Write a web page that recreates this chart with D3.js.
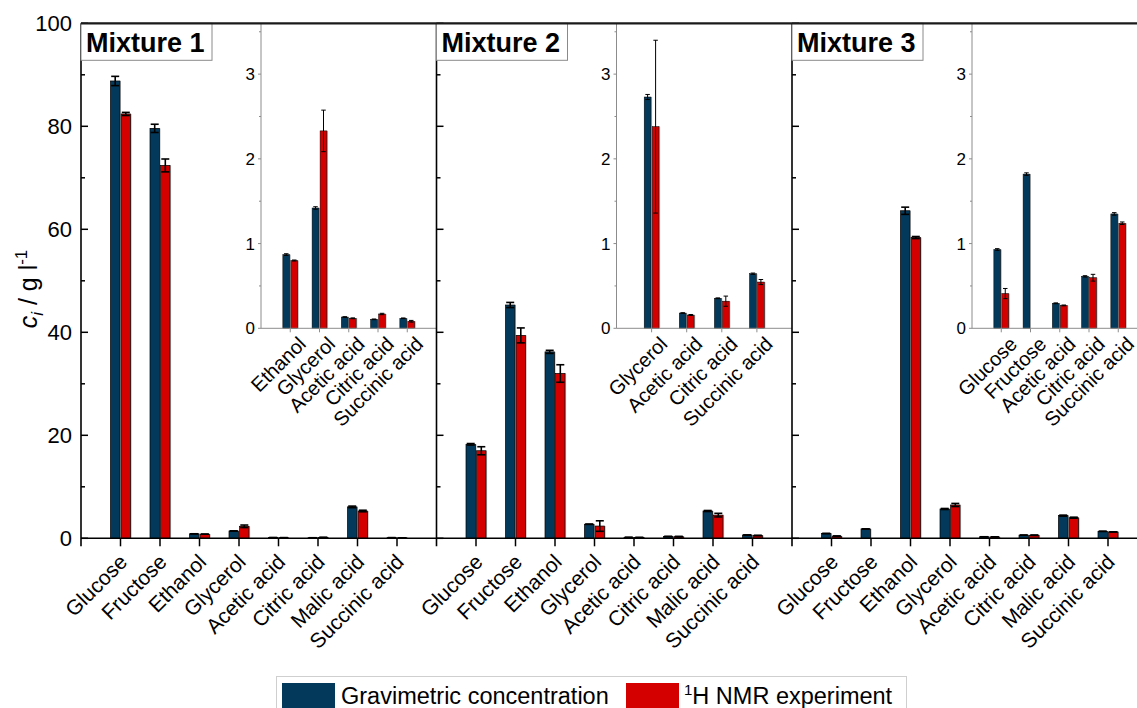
<!DOCTYPE html>
<html>
<head>
<meta charset="utf-8">
<script src="https://cdn.jsdelivr.net/npm/d3@7"></script>
<style>
  body { margin: 0; background: #fff; }
  svg { display: block; font-family: Arial, "Liberation Sans", sans-serif; }
</style>
</head>
<body>
<svg id="chart" width="1137" height="708"></svg>
<script>
// Analytes shown on the main axis of every panel
const categories = ["Glucose", "Fructose", "Ethanol", "Glycerol", "Acetic acid", "Citric acid", "Malic acid", "Succinic acid"];
const mixtures = ["Mixture 1", "Mixture 2", "Mixture 3"];
const seriesNames = ["Gravimetric concentration", "NMR experiment"];

// Concentrations in g/l (same order as categories)
const gravimetric1 = [88.8, 79.6, 0.87, 1.42, 0.133, 0.106, 6.1, 0.118];
const gravimetricErr1 = [0.9, 0.8, 0.01, 0.015, 0.004, 0.004, 0.15, 0.004];
const nmr1 = [82.4, 72.4, 0.80, 2.33, 0.118, 0.169, 5.3, 0.083];
const nmrErr1 = [0.3, 1.25, 0.006, 0.245, 0.005, 0.008, 0.15, 0.01];

const gravimetric2 = [18.25, 45.3, 36.2, 2.73, 0.18, 0.354, 5.3, 0.644];
const gravimetricErr2 = [0.15, 0.5, 0.3, 0.03, 0.004, 0.005, 0.1, 0.008];
const nmr2 = [17.0, 39.4, 32.0, 2.38, 0.157, 0.32, 4.5, 0.546];
const nmrErr2 = [0.78, 1.45, 1.7, 1.02, 0.006, 0.06, 0.35, 0.03];

const gravimetric3 = [0.93, 1.82, 63.6, 5.69, 0.295, 0.613, 4.4, 1.35];
const gravimetricErr3 = [0.01, 0.015, 0.7, 0.1, 0.005, 0.008, 0.1, 0.015];
const nmr3 = [0.41, null, 58.4, 6.47, 0.27, 0.597, 4.0, 1.24];
const nmrErr3 = [0.06, 0, 0.2, 0.3, 0.005, 0.04, 0.1, 0.015];

// Minor components enlarged in each panel's inset
const insetCategories1 = ["Ethanol", "Glycerol", "Acetic acid", "Citric acid", "Succinic acid"];
const insetCategories2 = ["Glycerol", "Acetic acid", "Citric acid", "Succinic acid"];
const insetCategories3 = ["Glucose", "Fructose", "Acetic acid", "Citric acid", "Succinic acid"];

const mainTicks = [0, 20, 40, 60, 80, 100];
const insetTicks = [0, 1, 2, 3];

const colors = { grav: "#033a5b", nmr: "#d40000" };

const panels = [
  { title: mixtures[0], grav: gravimetric1, gErr: gravimetricErr1, nmr: nmr1, nErr: nmrErr1, inset: insetCategories1 },
  { title: mixtures[1], grav: gravimetric2, gErr: gravimetricErr2, nmr: nmr2, nErr: nmrErr2, inset: insetCategories2 },
  { title: mixtures[2], grav: gravimetric3, gErr: gravimetricErr3, nmr: nmr3, nErr: nmrErr3, inset: insetCategories3 }
];

const svg = d3.select("#chart");

// Layout
const plotLeft = 81, panelW = 355.5, plotTop = 23.3, plotBase = 538.3;
const insetOffset = 180, insetBase = 328.3;

const y = d3.scaleLinear().domain([0, 100]).range([plotBase, plotTop]);
const yInset = d3.scaleLinear().domain([0, 3.6]).range([insetBase, plotTop]);

function drawBars(g, xs, yS, cats, p, bw, gap, errCap, errW, strokeW) {
  cats.forEach(cat => {
    const i = categories.indexOf(cat);
    const cx = xs(cat);
    const items = [
      { v: p.grav[i], e: p.gErr[i], c: colors.grav, x: cx - bw - gap / 2 },
      { v: p.nmr[i], e: p.nErr[i], c: colors.nmr, x: cx + gap / 2 }
    ];
    items.forEach(d => {
      if (d.v == null) return;
      const top = yS(d.v), h = yS(0) - top;
      g.append("rect").attr("x", d.x + 1.1).attr("y", top).attr("width", bw).attr("height", h)
        .attr("fill", "#b5b5b5");
      g.append("rect").attr("x", d.x).attr("y", top).attr("width", bw).attr("height", h)
        .attr("fill", d.c).attr("stroke", "#000").attr("stroke-width", strokeW);
      if (d.e > 0) {
        const mx = d.x + bw / 2;
        const y1 = yS(d.v + d.e), y2 = yS(Math.max(0, d.v - d.e));
        const eg = g.append("g").attr("stroke", "#000").attr("stroke-width", errW);
        eg.append("line").attr("x1", mx).attr("x2", mx).attr("y1", y1).attr("y2", y2);
        eg.append("line").attr("x1", mx - errCap / 2).attr("x2", mx + errCap / 2).attr("y1", y1).attr("y2", y1);
        eg.append("line").attr("x1", mx - errCap / 2).attr("x2", mx + errCap / 2).attr("y1", y2).attr("y2", y2);
      }
    });
  });
}

panels.forEach((p, k) => {
  const left = plotLeft + k * panelW;
  const x = d3.scalePoint().domain(categories).range([left, left + panelW]).padding(1);
  const g = svg.append("g");

  // main bars
  drawBars(g, x, y, categories, p, 9.4, 1.2, 8, 1.6, 0.7);

  // x tick marks (outward) and rotated labels
  categories.forEach(cat => {
    g.append("line").attr("x1", x(cat)).attr("x2", x(cat)).attr("y1", plotBase).attr("y2", plotBase + 8)
      .attr("stroke", "#000").attr("stroke-width", 1.5);
    g.append("text").attr("transform", `translate(${x(cat) + 8},${plotBase + 25}) rotate(-45)`)
      .attr("text-anchor", "end").attr("font-size", 21).attr("fill", "#000").text(cat);
  });

  // panel frame line on the left with inward ticks
  g.append("line").attr("x1", left).attr("x2", left).attr("y1", plotTop).attr("y2", plotBase + 8)
    .attr("stroke", "#000").attr("stroke-width", 1.6);
  d3.range(0, 101, 10).forEach(t => {
    const major = t % 20 === 0;
    g.append("line").attr("x1", left).attr("x2", left + (major ? 7 : 4)).attr("y1", y(t)).attr("y2", y(t))
      .attr("stroke", "#000").attr("stroke-width", 1.5);
  });

  // inset
  const iLeft = left + insetOffset, iRight = left + panelW;
  const xi = d3.scalePoint().domain(p.inset).range([iLeft, iRight]).padding(1);
  const ig = svg.append("g");
  drawBars(ig, xi, yInset, p.inset, p, 6.8, 1.2, 4.5, 1, 0.5);
  ig.append("line").attr("x1", iLeft).attr("x2", iLeft).attr("y1", plotTop).attr("y2", insetBase)
    .attr("stroke", "#8c8c8c").attr("stroke-width", 1);
  ig.append("line").attr("x1", iLeft).attr("x2", iRight).attr("y1", insetBase).attr("y2", insetBase)
    .attr("stroke", "#8c8c8c").attr("stroke-width", 1);
  d3.range(0, 3.51, 0.5).forEach(t => {
    const major = Number.isInteger(t);
    ig.append("line").attr("x1", iLeft - (major ? 3 : 2)).attr("x2", iLeft).attr("y1", yInset(t)).attr("y2", yInset(t))
      .attr("stroke", "#8c8c8c").attr("stroke-width", 1);
  });
  insetTicks.forEach(t => {
    ig.append("text").attr("x", iLeft - 6).attr("y", yInset(t)).attr("dy", "0.36em")
      .attr("text-anchor", "end").attr("font-size", 17).attr("fill", "#000").text(t);
  });
  p.inset.forEach(cat => {
    ig.append("line").attr("x1", xi(cat)).attr("x2", xi(cat)).attr("y1", insetBase).attr("y2", insetBase + 4)
      .attr("stroke", "#8c8c8c").attr("stroke-width", 1);
    ig.append("text").attr("transform", `translate(${xi(cat) + 17},${insetBase + 17}) rotate(-45)`)
      .attr("text-anchor", "end").attr("font-size", 20).attr("fill", "#000").text(cat);
  });

  // title box
  svg.append("rect").attr("x", left).attr("y", plotTop).attr("width", 131).attr("height", 37)
    .attr("fill", "#fff").attr("stroke", "#8a8a8a").attr("stroke-width", 1);
  svg.append("text").attr("x", left + 5).attr("y", plotTop + 29).attr("font-size", 27)
    .attr("font-weight", "bold").attr("fill", "#000").text(p.title);
});

// top frame and baseline
svg.append("line").attr("x1", plotLeft).attr("x2", 1137).attr("y1", plotTop).attr("y2", plotTop)
  .attr("stroke", "#1a1a1a").attr("stroke-width", 2.2);
svg.append("line").attr("x1", plotLeft).attr("x2", 1137).attr("y1", plotBase).attr("y2", plotBase)
  .attr("stroke", "#000").attr("stroke-width", 1.6);

// main y tick labels
const yAxisG = svg.append("g");
mainTicks.forEach(t => {
  yAxisG.append("text").attr("x", plotLeft - 9).attr("y", y(t)).attr("dy", "0.36em")
    .attr("text-anchor", "end").attr("font-size", 22).attr("fill", "#000").text(t);
});

// y axis title: c_i / g l^-1
const yt = svg.append("text").attr("transform", "translate(37,289) rotate(-90)")
  .attr("text-anchor", "middle").attr("font-size", 25).attr("fill", "#000");
yt.append("tspan").attr("font-style", "italic").text("c");
yt.append("tspan").attr("font-style", "italic").attr("font-size", 17).attr("dy", 6).text("i");
yt.append("tspan").attr("dy", -6).text(" / g l");
yt.append("tspan").attr("font-size", 17).attr("dy", -10).text("-1");

// legend
const lg = svg.append("g");
lg.append("rect").attr("x", 276.5).attr("y", 676.5).attr("width", 630).attr("height", 40)
  .attr("fill", "#fff").attr("stroke", "#cfcfcf");
lg.append("rect").attr("x", 282).attr("y", 683).attr("width", 53).attr("height", 30).attr("fill", colors.grav);
lg.append("text").attr("x", 341).attr("y", 703.5).attr("font-size", 23.5).attr("fill", "#000").text(seriesNames[0]);
lg.append("rect").attr("x", 626).attr("y", 683).attr("width", 53).attr("height", 30).attr("fill", colors.nmr);
const lt = lg.append("text").attr("x", 684).attr("y", 703.5).attr("font-size", 23.5).attr("fill", "#000");
lt.append("tspan").attr("font-size", 15).attr("dy", -9).text("1");
lt.append("tspan").attr("dy", 9).text("H " + seriesNames[1]);
</script>
</body>
</html>
